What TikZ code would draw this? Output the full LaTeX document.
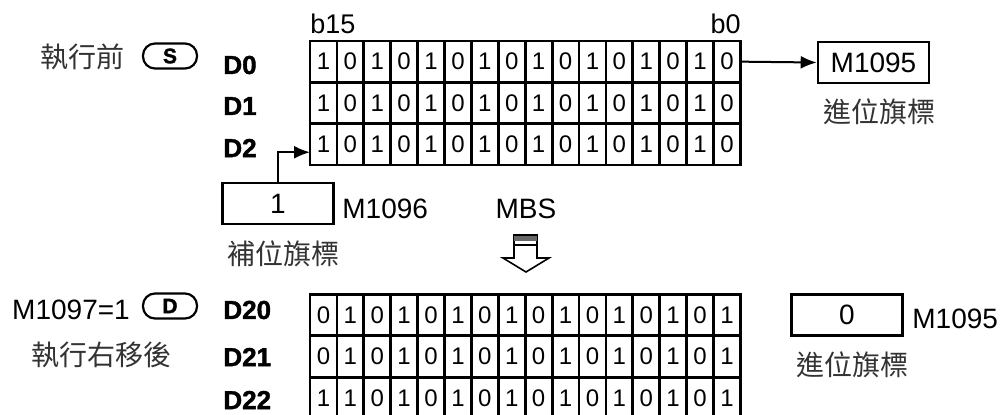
\documentclass[tikz,border=0pt]{standalone}
\usepackage{fontspec}
\setmainfont{Liberation Sans}
\newfontfamily\heavyfont{Liberation Sans}[BoldFeatures={FakeBold=1.5}]
\newfontfamily\cjkfont{Noto Sans CJK TC}
\usetikzlibrary{arrows.meta,calc,positioning}
\tikzset{
  cell/.style={draw=black, line width=1.4pt, minimum width=13.45pt,
               minimum height=20.65pt, inner sep=0pt, outer sep=0pt,
               font=\fontsize{12}{14}\selectfont},
  reglab/.style={anchor=west, inner sep=0pt,
                 font=\fontsize{13}{15}\selectfont\heavyfont\bfseries},
  bitlab/.style={inner sep=0pt, font=\fontsize{13.5}{15}\selectfont},
  flagbox/.style={draw=black, line width=1.3pt, minimum width=55.5pt,
                  minimum height=20.5pt, inner sep=0pt,
                  font=\fontsize{14}{16}\selectfont},
  lab/.style={inner sep=0pt, font=\fontsize{14}{16}\selectfont},
  cjklab/.style={text=black!80, font=\fontsize{14}{16}\selectfont\cjkfont},
  opnd/.style={draw=black, line width=1.1pt, rounded corners=6pt,
               minimum width=27pt, minimum height=12.5pt, inner sep=0pt,
               font=\fontsize{10.5}{12}\selectfont\heavyfont\bfseries},
  flow/.style={-{Latex[length=8pt,width=6.5pt]}, line width=1pt},
}
\begin{document}
\begin{tikzpicture}[x=0.5pt,y=-0.5pt]
  \useasboundingbox (0,0) rectangle (1002,414);

  % before: source words D0..D2
  \node[cjklab] (before) at (82,57) {執行前};
  \node[opnd] (S) at (170,56) {S};
  \node[bitlab, anchor=base west] (b15) at (310,33) {b15};
  \node[bitlab, anchor=base east] (b0) at (741,33) {b0};
  \foreach \row [count=\r] in {{1,0,1,0,1,0,1,0,1,0,1,0,1,0,1,0},
                               {1,0,1,0,1,0,1,0,1,0,1,0,1,0,1,0},
                               {1,0,1,0,1,0,1,0,1,0,1,0,1,0,1,0}} {
    \foreach \b [count=\c] in \row {
      \node[cell] (src-\r-\c) at ({310+(\c-0.5)*26.9},{41+(\r-0.5)*41.3}) {\b};
    }
  }
  \node[reglab] (D0) at (223,65) {D0};
  \node[reglab] (D1) at (223,106) {D1};
  \node[reglab] (D2) at (223,148) {D2};

  % carry out and fill bit
  \node[flagbox] (cout) at (873.5,62.5) {M1095};
  \node[cjklab] (coutlab) at (879,112) {進位旗標};
  \draw[flow] (src-1-16.east) -- (cout.west);

  \node[flagbox] (cin) at (278,203.5) {1};
  \node[lab, anchor=base west] (cinname) at (342,218) {M1096};
  \node[cjklab] (cinlab) at (283,254) {補位旗標};
  \draw[flow] (cin.north) |- ([yshift=-4pt]src-3-1.west);

  % instruction
  \node[lab, anchor=base] (MBS) at (526,218) {MBS};
  \draw[line width=0.8pt, fill=white] (514,235) -- (537,235) -- (537,258)
    -- (549,258) -- (526,272) -- (503,258) -- (514,258) -- cycle;
  \fill[black!60] (514,236) rectangle (537,241);
  \draw[line width=0.8pt] (514,245) -- (537,245);

  % after: destination words D20..D22
  \node[lab] (mode) at (71,310) {M1097=1};
  \node[opnd] (D) at (170,306) {D};
  \node[cjklab] (after) at (102,355) {執行右移後};
  \foreach \row [count=\r] in {{0,1,0,1,0,1,0,1,0,1,0,1,0,1,0,1},
                               {0,1,0,1,0,1,0,1,0,1,0,1,0,1,0,1},
                               {1,1,0,1,0,1,0,1,0,1,0,1,0,1,0,1}} {
    \foreach \b [count=\c] in \row {
      \node[cell] (dst-\r-\c) at ({310+(\c-0.5)*26.9},{294+(\r-0.5)*41.5}) {\b};
    }
  }
  \node[reglab] (D20) at (223,310) {D20};
  \node[reglab] (D21) at (223,357) {D21};
  \node[reglab] (D22) at (223,400) {D22};

  \node[flagbox] (cres) at (847,315) {0};
  \node[lab, anchor=base west] (cresname) at (912,328) {M1095};
  \node[cjklab] (creslab) at (852,365) {進位旗標};
\end{tikzpicture}
\end{document}
